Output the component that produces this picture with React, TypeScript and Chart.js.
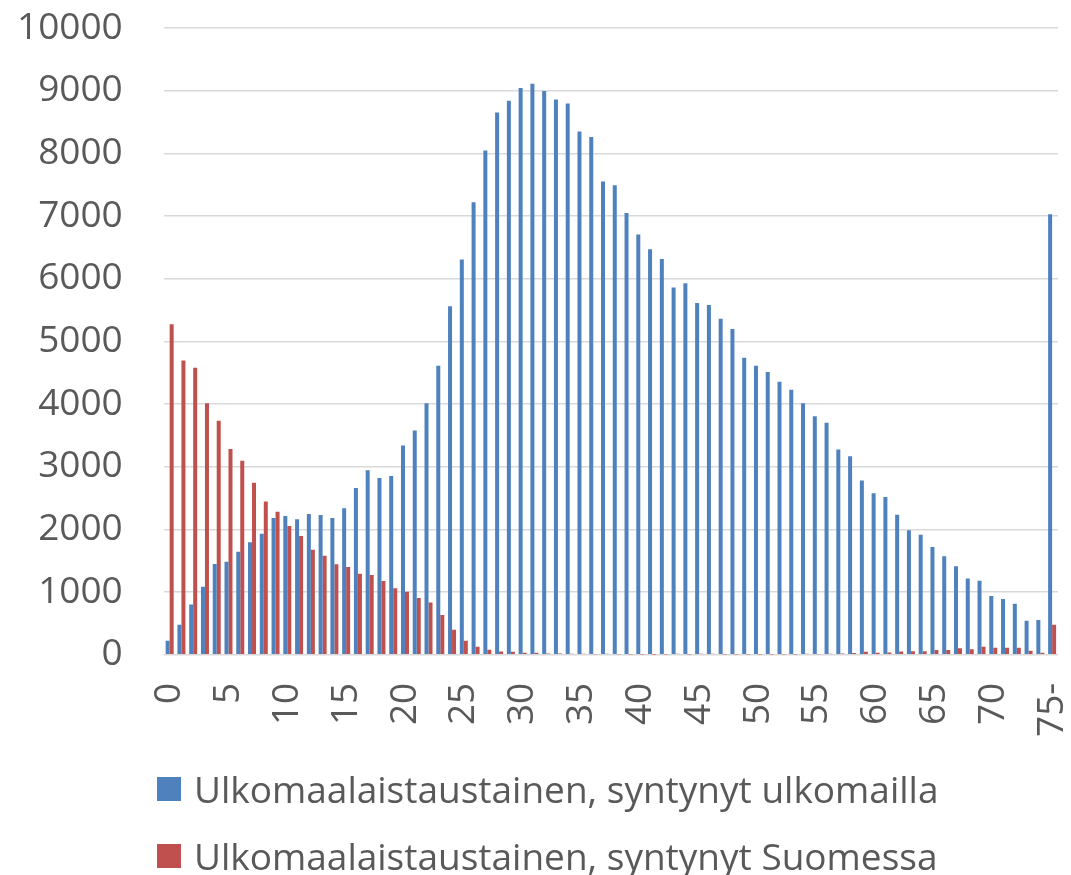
import React, { useEffect, useRef } from "react";
import { Chart, registerables } from "chart.js";

Chart.register(...registerables);

const categories = [
  "0","1","2","3","4","5","6","7","8","9",
  "10","11","12","13","14","15","16","17","18","19",
  "20","21","22","23","24","25","26","27","28","29",
  "30","31","32","33","34","35","36","37","38","39",
  "40","41","42","43","44","45","46","47","48","49",
  "50","51","52","53","54","55","56","57","58","59",
  "60","61","62","63","64","65","66","67","68","69",
  "70","71","72","73","74","75-",
];

const seriesNames = [
  "Ulkomaalaistaustainen, syntynyt ulkomailla",
  "Ulkomaalaistaustainen, syntynyt Suomessa",
];

const bornAbroad = [
  224, 479, 804, 1086, 1448, 1486, 1645, 1794, 1933, 2183,
  2215, 2162, 2247, 2231, 2183, 2337, 2662, 2944, 2822, 2854,
  3339, 3578, 4015, 4612, 5559, 6305, 7220, 8046, 8653, 8839,
  9042, 9110, 8994, 8861, 8797, 8350, 8259, 7551, 7492, 7050,
  6704, 6470, 6315, 5858, 5927, 5612, 5580, 5362, 5197, 4740,
  4612, 4510, 4356, 4228, 4015, 3807, 3701, 3275, 3168, 2780,
  2577, 2519, 2236, 1986, 1917, 1720, 1571, 1411, 1219, 1182,
  938, 890, 815, 543, 554, 7029,
];

const bornInFinland = [
  5272, 4696, 4580, 4015, 3733, 3285, 3094, 2743, 2444, 2284,
  2055, 1896, 1677, 1581, 1443, 1400, 1294, 1273, 1177, 1060,
  1006, 905, 836, 634, 400, 224, 128, 80, 53, 48,
  32, 32, 21, 21, 16, 16, 10, 16, 10, 5,
  5, 2, 5, 16, 5, 16, 16, 5, 5, 5,
  5, 5, 5, 5, 16, 10, 16, 21, 27, 48,
  32, 37, 53, 58, 58, 75, 75, 106, 90, 128,
  112, 112, 112, 64, 32, 479,
];

const yTicks = [0, 1000, 2000, 3000, 4000, 5000, 6000, 7000, 8000, 9000, 10000];

const colors = ["#4F81BD", "#C0504D"];
const textColor = "#595959";
const fontFamily = "'Open Sans', Lato, sans-serif";
const fontSize = 37;

export default function App() {
  const ref = useRef<HTMLCanvasElement | null>(null);

  useEffect(() => {
    if (!ref.current) return;
    const chart = new Chart(ref.current, {
      type: "bar",
      data: {
        labels: categories,
        datasets: [
          {
            label: seriesNames[0],
            data: bornAbroad,
            backgroundColor: colors[0],
            categoryPercentage: 0.68,
            barPercentage: 1.0,
          },
          {
            label: seriesNames[1],
            data: bornInFinland,
            backgroundColor: colors[1],
            categoryPercentage: 0.68,
            barPercentage: 1.0,
          },
        ],
      },
      options: {
        animation: false,
        responsive: false,
        maintainAspectRatio: false,
        layout: { padding: { left: -24, right: 13, top: 28, bottom: 118 } },
        plugins: { legend: { display: false }, tooltip: { enabled: false } },
        scales: {
          x: {
            grid: { display: false },
            border: { display: false },
            afterFit: (axis: any) => {
              axis.paddingLeft = 0;
              axis.paddingRight = 0;
            },
            ticks: {
              autoSkip: false,
              minRotation: 90,
              maxRotation: 90,
              padding: 20,
              color: textColor,
              font: { family: fontFamily, size: fontSize },
              callback: (_v: any, i: number) => (i % 5 === 0 ? categories[i] : ""),
            },
          },
          y: {
            min: yTicks[0],
            max: yTicks[yTicks.length - 1],
            afterBuildTicks: (axis: any) => {
              axis.ticks = yTicks.map((v) => ({ value: v }));
            },
            afterFit: (axis: any) => {
              axis.paddingTop = 0;
              axis.paddingBottom = 0;
            },
            grid: { color: "#D9D9D9", lineWidth: 1.5, drawTicks: false },
            border: { display: false },
            ticks: {
              padding: 41,
              color: textColor,
              font: { family: fontFamily, size: fontSize },
              callback: (v: any) => String(v),
            },
          },
        },
      },
    });
    return () => chart.destroy();
  }, []);

  const legendRow = (i: number, top: number) => (
    <div
      key={i}
      style={{
        position: "absolute",
        left: 157,
        top,
        display: "flex",
        alignItems: "center",
        fontFamily,
        fontSize,
        color: textColor,
        whiteSpace: "nowrap",
        lineHeight: 1,
      }}
    >
      <span
        style={{ width: 24, height: 24, background: colors[i], display: "inline-block", marginRight: 13 }}
      />
      <span>{seriesNames[i]}</span>
    </div>
  );

  return (
    <div style={{ position: "absolute", left: 0, top: 0, width: 1071, height: 875, background: "#fff" }}>
      <canvas ref={ref} width={1071} height={875} style={{ position: "absolute", left: 0, top: 0 }} />
      {legendRow(0, 770)}
      {legendRow(1, 837)}
    </div>
  );
}
